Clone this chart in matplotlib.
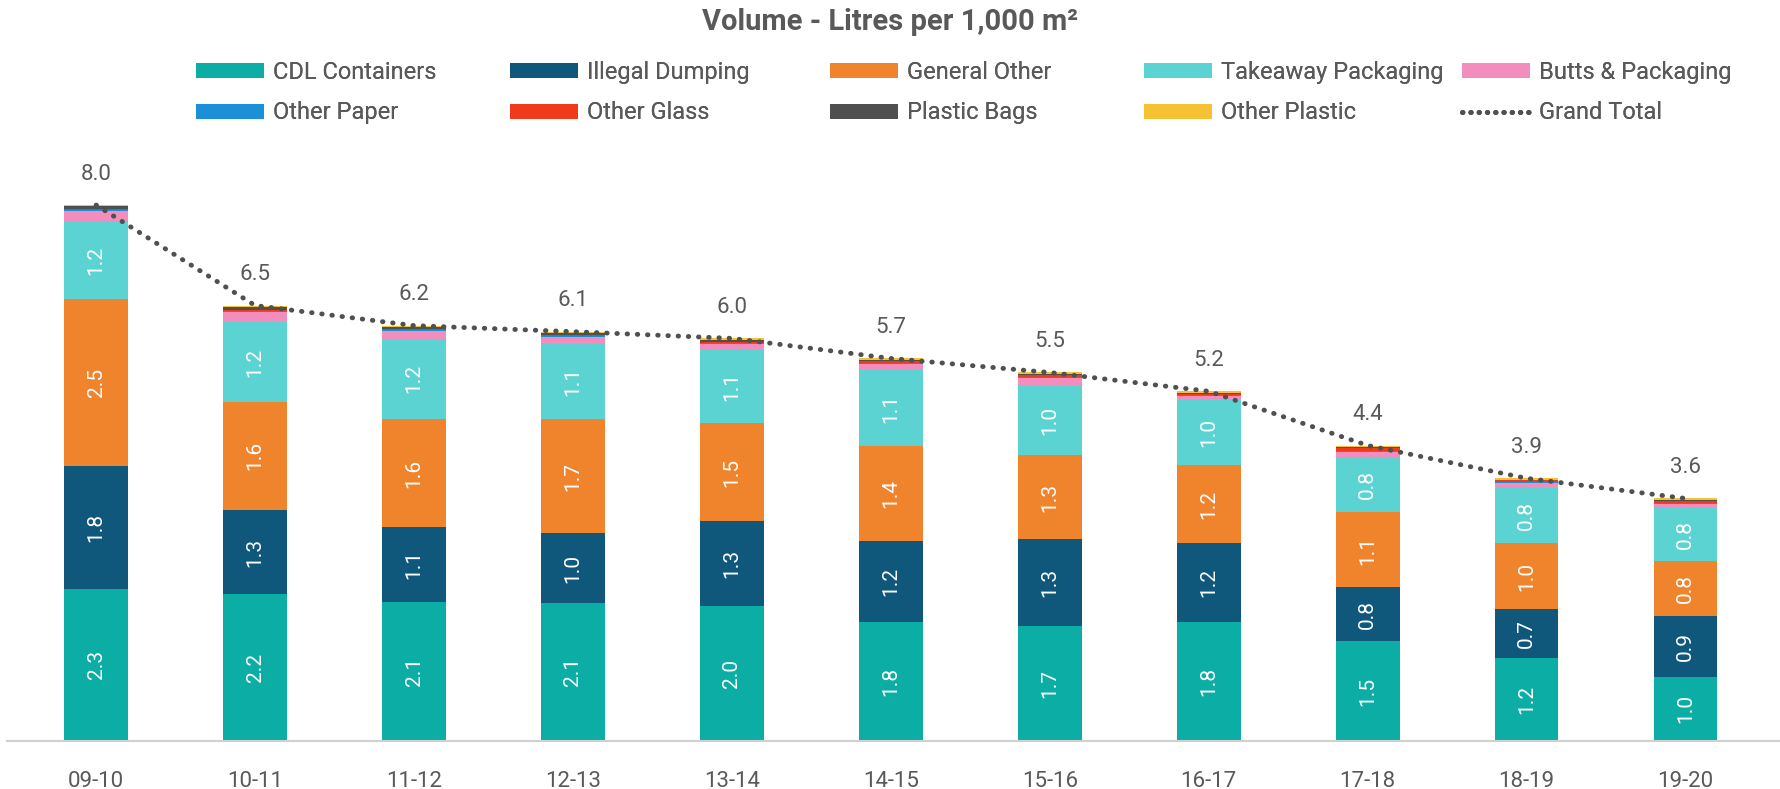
"""Stacked litter volume chart, litres per 1,000 m2."""
import matplotlib
matplotlib.use("Agg")
import matplotlib.pyplot as plt
from matplotlib.patches import Patch
from matplotlib.lines import Line2D
import numpy as np

plt.rcParams['font.family'] = ['Roboto', 'DejaVu Sans']

# data
years = ["09-10", "10-11", "11-12", "12-13", "13-14", "14-15",
         "15-16", "16-17", "17-18", "18-19", "19-20"]
cdl = [2.27, 2.19, 2.08, 2.06, 2.02, 1.78, 1.71, 1.78, 1.49, 1.24, 0.96]
illegal = [1.83, 1.26, 1.11, 1.04, 1.26, 1.21, 1.30, 1.17, 0.80, 0.73, 0.90]
general = [2.49, 1.61, 1.62, 1.70, 1.46, 1.42, 1.26, 1.17, 1.12, 0.98, 0.82]
takeaway = [1.17, 1.19, 1.19, 1.12, 1.10, 1.12, 1.03, 0.97, 0.83, 0.83, 0.81]
butts = [0.15, 0.16, 0.12, 0.11, 0.09, 0.10, 0.12, 0.06, 0.08, 0.07, 0.05]
paper = [0.01, 0.01, 0.01, 0.01, 0.01, 0.01, 0.01, 0.01, 0.01, 0.01, 0.01]
glass = [0.02, 0.02, 0.02, 0.02, 0.02, 0.03, 0.03, 0.02, 0.04, 0.03, 0.03]
bags = [0.04, 0.04, 0.03, 0.03, 0.03, 0.02, 0.02, 0.02, 0.02, 0.01, 0.02]
plastic = [0.02, 0.02, 0.02, 0.02, 0.02, 0.02, 0.02, 0.02, 0.02, 0.02, 0.02]

names = ["CDL Containers", "Illegal Dumping", "General Other", "Takeaway Packaging",
         "Butts & Packaging", "Other Paper", "Other Glass", "Plastic Bags", "Other Plastic"]
series = [cdl, illegal, general, takeaway, butts, paper, glass, bags, plastic]
colors = ["#0BADA4", "#0F587B", "#F0842C", "#5CD3D3", "#F28DBE",
          "#1A90D8", "#F03A1C", "#4F4F4F", "#F4C232"]
labelled = [True, True, True, True, False, False, False, False, False]

grey = "#595959"

fig = plt.figure(figsize=(17.81, 7.89), dpi=100)
ax = fig.add_axes([0.004, 0.061, 0.996, 0.764])

x = np.arange(len(years))
bottom = np.zeros(len(years))
for vals, col, lab in zip(series, colors, labelled):
    vals = np.array(vals)
    ax.bar(x, vals, width=0.4, bottom=bottom, color=col, zorder=2)
    if lab:
        for xi, b, v in zip(x, bottom, vals):
            ax.text(xi, b + v / 2, f"{v:.1f}", rotation=90, ha='center', va='center',
                    color='white', fontsize=15, zorder=3)
    bottom = bottom + vals

total = bottom
ax.plot(x, total, color="#505050", linewidth=3.5, linestyle=(0, (0.1, 2.0)),
        dash_capstyle='round', zorder=4)
for xi, t in zip(x, total):
    ax.text(xi, t + 0.46, f"{t:.1f}", ha='center', va='center', color=grey, fontsize=16)

ax.set_xlim(-0.56, 10.6)
ax.set_ylim(0, 9)
ax.set_yticks([])
ax.set_xticks(x)
ax.set_xticklabels(years, fontsize=16, color=grey)
ax.tick_params(axis='x', length=0, pad=22)
for s in ['top', 'right', 'left']:
    ax.spines[s].set_visible(False)
ax.spines['bottom'].set_color('#D0D0D0')
ax.spines['bottom'].set_linewidth(1.5)

fig.text(0.5, 0.972, "Volume - Litres per 1,000 m²", ha='center', va='center',
         fontsize=21, fontweight='bold', color=grey)

# legend: five columns, equal spacing, row-major order
handles = [Patch(facecolor=c) for c in colors]
handles.append(Line2D([0], [0], color="#505050", linewidth=3.5, linestyle=(0, (0.1, 1.6)),
                      dash_capstyle='round'))
labels = names + ["Grand Total"]
col_x = [196, 510, 830, 1144, 1462]
for c in range(5):
    leg = fig.legend([handles[c], handles[c + 5]], [labels[c], labels[c + 5]],
                     loc='upper left', bbox_to_anchor=(col_x[c] / 1781, 1 - 61 / 789),
                     frameon=False, fontsize=17, handlelength=2.9, handleheight=0.6,
                     handletextpad=0.35, labelspacing=0.74, borderaxespad=0, borderpad=0,
                     labelcolor=grey)
    fig.add_artist(leg)

fig.savefig("out.png", dpi=100)
